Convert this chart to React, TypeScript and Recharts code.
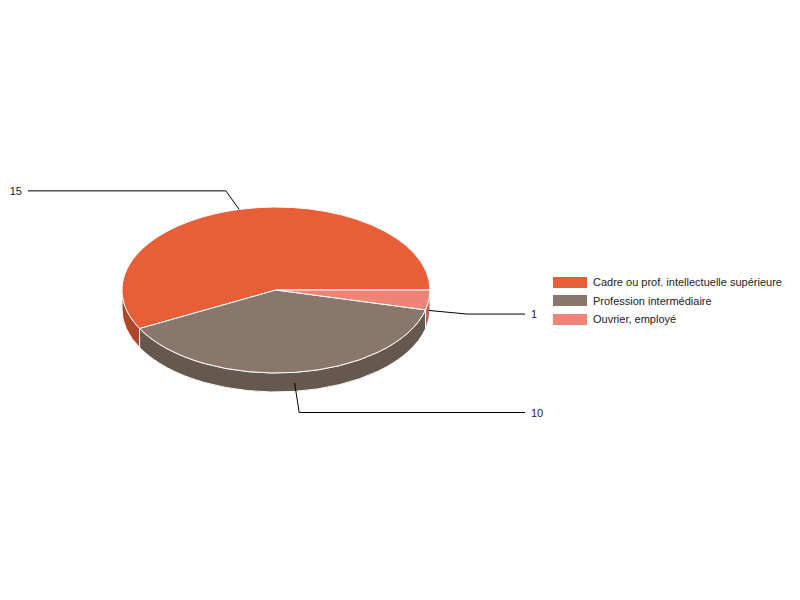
import React from 'react';
import { PieChart, Pie, Cell } from 'recharts';

const categories = ['Cadre ou prof. intellectuelle supérieure', 'Profession intermédiaire', 'Ouvrier, employé'];
const values = [15, 10, 1];
const topColors = ['#E85E37', '#88776A', '#EE8475'];
const sideColors = ['#B0452A', '#65584E', '#B5645A'];

const data = categories.map((name, i) => ({ name, value: values[i], side: sideColors[i] }));

const CX = 276;
const CY = 290;
const RX = 154;
const RY = 83;
const DEPTH = 19;
const RAD = Math.PI / 180;

const pt = (a: number, dy = 0) => [CX + RX * Math.cos(a * RAD), CY - RY * Math.sin(a * RAD) + dy];

// elliptic sector with a front wall, drawn from recharts' own angles
const Slice3D = (props: any) => {
  const { startAngle, endAngle, fill, payload } = props;
  const sa = Math.min(startAngle, endAngle);
  const ea = Math.max(startAngle, endAngle);
  const [x1, y1] = pt(sa);
  const [x2, y2] = pt(ea);
  const large = ea - sa > 180 ? 1 : 0;
  const top = `M${CX},${CY} L${x1},${y1} A${RX},${RY} 0 ${large} 0 ${x2},${y2} Z`;
  const a1 = Math.max(sa, 180);
  const a2 = Math.min(ea, 360);
  let side = null;
  if (a2 > a1) {
    const [sx1, sy1] = pt(a1);
    const [sx2, sy2] = pt(a2);
    const l2 = a2 - a1 > 180 ? 1 : 0;
    side = (
      <path
        d={`M${sx1},${sy1} A${RX},${RY} 0 ${l2} 0 ${sx2},${sy2} L${sx2},${sy2 + DEPTH} A${RX},${RY} 0 ${l2} 1 ${sx1},${sy1 + DEPTH} Z`}
        fill={payload?.side ?? props.side}
        stroke="#fff"
        strokeWidth={1}
      />
    );
  }
  return (
    <g>
      {side}
      <path d={top} fill={fill} stroke="#fff" strokeWidth={1} />
    </g>
  );
};

const renderLabel = (props: any) => {
  const { midAngle, value } = props;
  const s = Math.sin(midAngle * RAD);
  const c = Math.cos(midAngle * RAD);
  const [px, py0] = pt(midAngle);
  const py = s < 0 ? py0 + DEPTH * 0.55 : py0;
  const ex = CX + RX * (s > 0 ? 1.36 : 1.25) * c;
  const ey = py - RY * (s > 0 ? 0.23 : 0.36) * s;
  const right = c >= 0;
  const endX = right ? 525 : 28;
  return (
    <g>
      <polyline points={`${px},${py} ${ex},${ey} ${endX},${ey}`} fill="none" stroke="#000" strokeWidth={1} />
      <text
        x={right ? endX + 6 : endX - 6}
        y={ey}
        textAnchor={right ? 'start' : 'end'}
        dominantBaseline="central"
        fontSize={11}
        fill="#222"
        stroke="none"
      >
        {value}
      </text>
    </g>
  );
};

const App = () => {
  return (
    <div style={{ position: 'absolute', left: 0, top: 0, width: 800, height: 600, background: '#fff', fontFamily: 'Arial, "Liberation Sans", sans-serif' }}>
      <PieChart width={800} height={600}>
        <Pie
          data={data}
          dataKey="value"
          nameKey="name"
          cx={CX}
          cy={CY}
          outerRadius={RX}
          startAngle={0}
          endAngle={360}
          shape={Slice3D}
          activeShape={Slice3D}
          label={renderLabel}
          labelLine={false}
          isAnimationActive={false}
        >
          {data.map((d, i) => (
            <Cell key={d.name} fill={topColors[i]} />
          ))}
        </Pie>
      </PieChart>
      <div style={{ position: 'absolute', left: 553, top: 273 }}>
        {categories.map((name, i) => (
          <div key={name} style={{ display: 'flex', alignItems: 'center', height: 18.5, fontSize: 11, color: '#222' }}>
            <span style={{ display: 'inline-block', width: 34, height: 11, background: topColors[i], marginRight: 6 }} />
            {name}
          </div>
        ))}
      </div>
    </div>
  );
};

export default App;
